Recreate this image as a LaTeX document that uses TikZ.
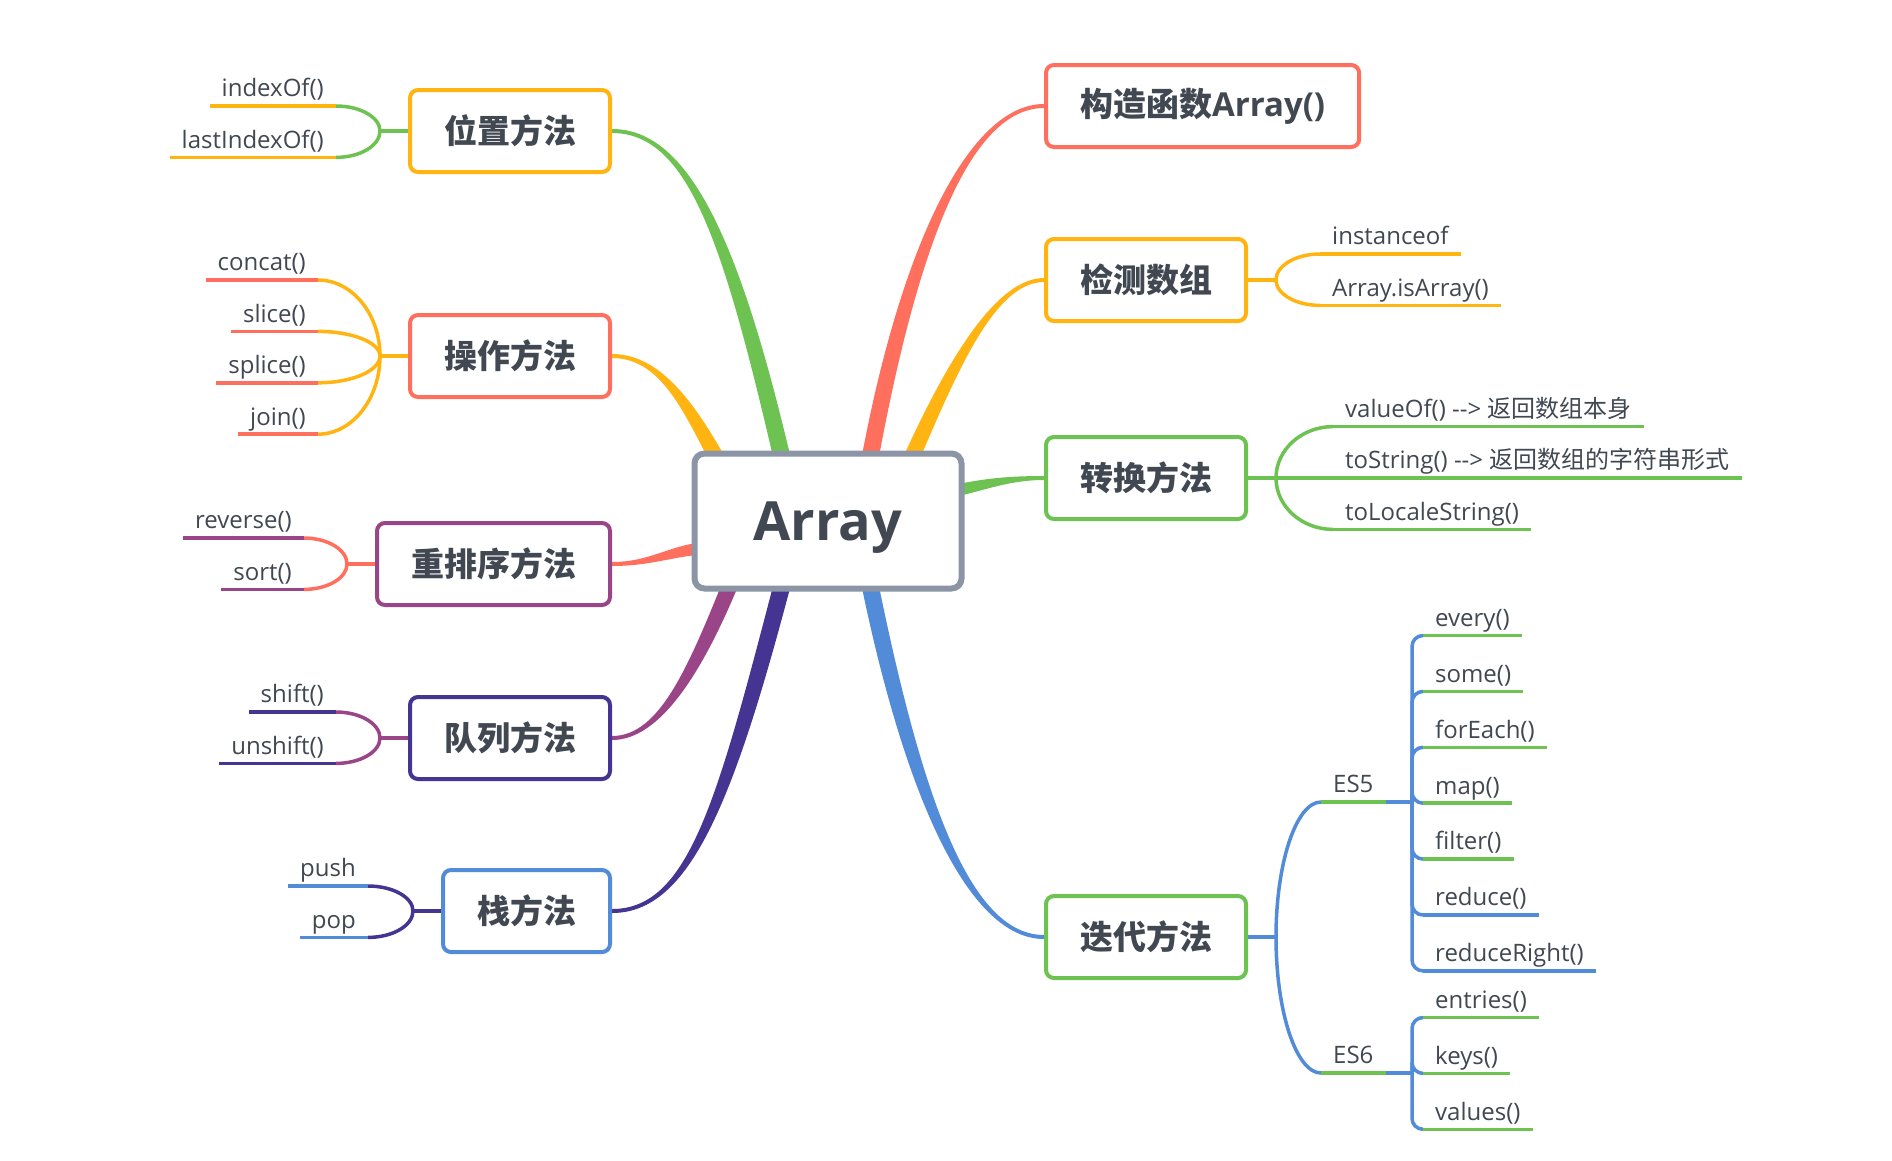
\documentclass[tikz,border=0pt]{standalone}
\usepackage{fontspec}
\setmainfont{Open Sans}
\newfontfamily\cjk{Noto Sans CJK SC}
\usetikzlibrary{positioning, calc, backgrounds}

\definecolor{cGreen}{RGB}{109,194,82}
\definecolor{cOrange}{RGB}{255,180,18}
\definecolor{cRed}{RGB}{255,111,94}
\definecolor{cPurple}{RGB}{153,69,136}
\definecolor{cIndigo}{RGB}{70,52,147}
\definecolor{cBlue}{RGB}{82,139,216}
\definecolor{cGray}{RGB}{139,149,165}
\definecolor{cText}{RGB}{65,72,82}

\newcommand{\mainlimb}[6]{%
  \fill[#1] ($(#2)!2pt!90:(#3)$) .. controls ($(#3)!2pt!-90:(#2)$) and ($(#4)!#6!90:(#5)$) .. ($(#5)!#6!-90:(#4)$)
    -- ($(#5)!#6!90:(#4)$) .. controls ($(#4)!#6!-90:(#5)$) and ($(#3)!2pt!90:(#2)$) .. ($(#2)!2pt!-90:(#3)$) -- cycle;}

\begin{document}
\begin{tikzpicture}[
        x=1pt, y=-1pt,
        node distance=15pt,
        core/.style={draw=cGray, line width=6pt, rounded corners=10pt, fill=white, text=cText,
                     font=\bfseries\fontsize{54pt}{60pt}\selectfont, text depth=0pt,
                     minimum width=267pt, minimum height=135pt},
        box/.style={draw=#1, line width=4pt, rounded corners=8pt, fill=white, text=cText,
                    font=\cjk\bfseries\fontsize{33pt}{38pt}\selectfont, minimum height=82pt, inner xsep=34pt},
        leaf/.style={text=cText, font=\fontsize{24pt}{28pt}\selectfont, inner xsep=12pt, inner ysep=9pt,
                     text height=18pt, text depth=0pt,
                     append after command={(\tikzlastnode.south west) edge[draw=#1, line width=3.5pt] (\tikzlastnode.south east)}},
        twig/.style={line width=3.5pt},
        fork/.style={to path={.. controls ($(\tikztostart)!0.55!(\tikztostart |- \tikztotarget)$)
                                 and ($(\tikztotarget)!0.55!(\tikztostart |- \tikztotarget)$) .. (\tikztotarget)}}
    ]

    \useasboundingbox (0,0) rectangle (1892,1160);

    \node[core] (root) at (828,521) {Array};

    \node[box=cOrange, anchor=east] (pos) at (612,131) {位置方法};
    \node[box=cRed, anchor=east] (ops) at (612,356) {操作方法};
    \node[box=cPurple, anchor=east] (sort) at (612,564) {重排序方法};
    \node[box=cIndigo, anchor=east] (queue) at (612,738) {队列方法};
    \node[box=cBlue, anchor=east] (stack) at (612,911) {栈方法};

    \node[box=cRed, anchor=west] (ctor) at (1044,106) {构造函数{\rmfamily Array()}};
    \node[box=cOrange, anchor=west] (check) at (1044,280) {检测数组};
    \node[box=cGreen, anchor=west] (conv) at (1044,478) {转换方法};
    \node[box=cGreen, anchor=west] (iter) at (1044,937) {迭代方法};

    \node[leaf=cOrange, anchor=south east] (idx) at (336,106) {indexOf()};
    \node[leaf=cOrange, below=of idx.south east, anchor=north east] (lidx) {lastIndexOf()};

    \node[leaf=cRed, anchor=south east] (concat) at (318,280) {concat()};
    \node[leaf=cRed, below=of concat.south east, anchor=north east] (slice) {slice()};
    \node[leaf=cRed, below=of slice.south east, anchor=north east] (splice) {splice()};
    \node[leaf=cRed, below=of splice.south east, anchor=north east] (join) {join()};

    \node[leaf=cPurple, anchor=south east] (rev) at (304,538) {reverse()};
    \node[leaf=cPurple, below=of rev.south east, anchor=north east] (srt) {sort()};

    \node[leaf=cIndigo, anchor=south east] (shift) at (336,712) {shift()};
    \node[leaf=cIndigo, below=of shift.south east, anchor=north east] (unshift) {unshift()};

    \node[leaf=cBlue, anchor=south east] (push) at (368,886) {push};
    \node[leaf=cBlue, below=of push.south east, anchor=north east] (pop) {pop};

    \node[leaf=cOrange, anchor=south west] (inst) at (1320,254) {instanceof};
    \node[leaf=cOrange, below=of inst.south west, anchor=north west] (isarr) {Array.isArray()};

    \node[leaf=cGreen, anchor=south west] (tostr) at (1333,478) {toString() -{}-> {\cjk 返回数组的字符串形式}};
    \node[leaf=cGreen, above=of tostr.north west, anchor=south west] (valueof) {valueOf() -{}-> {\cjk 返回数组本身}};
    \node[leaf=cGreen, below=of tostr.south west, anchor=north west] (toloc) {toLocaleString()};

    \node[leaf=cGreen, anchor=south west] (es5) at (1321,802) {ES5};
    \node[leaf=cGreen, anchor=south west] (es6) at (1321,1073) {ES6};

    \node[leaf=cGreen, anchor=south west] (every) at (1423,635.5) {every()};
    \node[leaf=cGreen, below=19.5pt of every.south west, anchor=north west] (some) {some()};
    \node[leaf=cGreen, below=19.5pt of some.south west, anchor=north west] (forEach) {forEach()};
    \node[leaf=cGreen, below=19.5pt of forEach.south west, anchor=north west] (map) {map()};
    \node[leaf=cGreen, below=19.5pt of map.south west, anchor=north west] (filter) {filter()};
    \node[leaf=cBlue, below=19.5pt of filter.south west, anchor=north west] (reduce) {reduce()};
    \node[leaf=cBlue, below=19.5pt of reduce.south west, anchor=north west] (reduceR) {reduceRight()};

    \node[leaf=cGreen, anchor=south west] (entries) at (1423,1017.5) {entries()};
    \node[leaf=cGreen, below=19.5pt of entries.south west, anchor=north west] (keys) {keys()};
    \node[leaf=cGreen, below=19.5pt of keys.south west, anchor=north west] (values) {values()};

    \begin{scope}[on background layer]
        \fill[white] (0,0) rectangle (1892,1160);

        \mainlimb{cGreen}{pos.east}{690,131}{733,245}{786,475}{8.5pt}
        \mainlimb{cOrange}{ops.east}{665,356}{694,417}{727,477}{8pt}
        \mainlimb{cRed}{sort.east}{650,564}{670,551}{705,548}{6pt}
        \mainlimb{cPurple}{queue.east}{660,738}{696,670}{736,570}{8pt}
        \mainlimb{cIndigo}{stack.east}{690,911}{726,800}{786,570}{8.5pt}
        \mainlimb{cRed}{ctor.west}{970,106}{908,245}{867,475}{8.5pt}
        \mainlimb{cOrange}{check.west}{990,280}{943,387}{903,477}{8pt}
        \mainlimb{cGreen}{conv.west}{1010,478}{985,484}{950,492}{6pt}
        \mainlimb{cBlue}{iter.west}{970,937}{913,800}{867,570}{8.5pt}

        \draw[twig, cGreen] (pos.west) -- ++(-28,0) coordinate (jpos);
        \foreach \n in {idx, lidx} \draw[twig, cGreen] (jpos) to[fork] (\n.south east);
        \draw[twig, cOrange] (ops.west) -- ++(-28,0) coordinate (jops);
        \foreach \n in {concat, slice, splice, join} \draw[twig, cOrange] (jops) to[fork] (\n.south east);
        \draw[twig, cRed] (sort.west) -- ++(-28,0) coordinate (jsort);
        \foreach \n in {rev, srt} \draw[twig, cRed] (jsort) to[fork] (\n.south east);
        \draw[twig, cPurple] (queue.west) -- ++(-28,0) coordinate (jqueue);
        \foreach \n in {shift, unshift} \draw[twig, cPurple] (jqueue) to[fork] (\n.south east);
        \draw[twig, cIndigo] (stack.west) -- ++(-28,0) coordinate (jstack);
        \foreach \n in {push, pop} \draw[twig, cIndigo] (jstack) to[fork] (\n.south east);

        \draw[twig, cOrange] (check.east) -- ++(28,0) coordinate (jcheck);
        \foreach \n in {inst, isarr} \draw[twig, cOrange] (jcheck) to[fork] (\n.south west);
        \draw[twig, cGreen] (conv.east) -- ++(28,0) coordinate (jconv);
        \foreach \n in {valueof, tostr, toloc} \draw[twig, cGreen] (jconv) to[fork] (\n.south west);
        \draw[twig, cBlue] (iter.east) -- ++(28,0) coordinate (jiter);
        \foreach \n in {es5, es6} \draw[twig, cBlue] (jiter) to[fork] (\n.south west);

        \coordinate (t5) at ($(every.south west |- es5.south)+(-11,0)$);
        \coordinate (t6) at ($(entries.south west |- es6.south)+(-11,0)$);
        \draw[twig, cBlue] (es5.south east) -- (t5);
        \draw[twig, cBlue] (es6.south east) -- (t6);
        \foreach \n in {every, some, forEach, map, filter, reduce, reduceR}
            \draw[twig, cBlue, rounded corners=11pt] (t5) |- (\n.south west);
        \foreach \n in {entries, keys, values}
            \draw[twig, cBlue, rounded corners=11pt] (t6) |- (\n.south west);
    \end{scope}

\end{tikzpicture}
\end{document}
